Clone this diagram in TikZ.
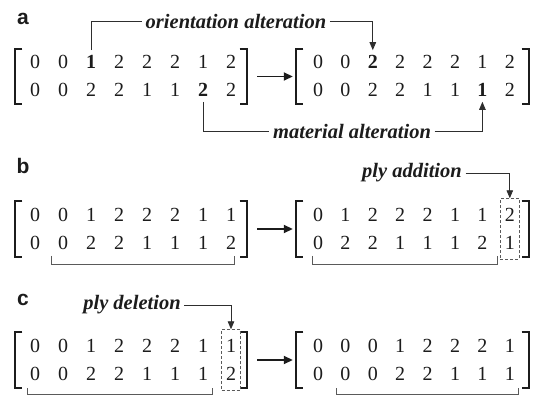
\documentclass[tikz,border=0pt]{standalone}
\usepackage{fontspec}
\setmainfont{Liberation Serif}
\newfontfamily\panelfont{Liberation Sans}
\usetikzlibrary{arrows.meta,fit}
\definecolor{ink}{HTML}{1C1C1C}
\definecolor{wire}{HTML}{2E2E2E}
\definecolor{soft}{HTML}{5A5A5A}

% square brackets drawn on the edges of a frame node
\newcommand\matbrackets[1]{%
  \draw[brk] ([xshift=7.5pt]#1.north west) -| (#1.south west) -- ++(7.5,0);
  \draw[brk] ([xshift=-7.5pt]#1.north east) -| (#1.south east) -- ++(-7.5,0);
}

\begin{document}
\begin{tikzpicture}[x=1pt,y=-1pt,
  dig/.style={font=\fontsize{20}{20}\selectfont, text=ink, inner xsep=4pt, inner ysep=5pt},
  tag/.style={font=\fontsize{20.5}{20.5}\selectfont\bfseries\itshape, text=ink, inner xsep=3.5pt, inner ysep=2pt},
  panel/.style={font=\panelfont\fontsize{21}{21}\selectfont\bfseries, text=ink, inner sep=0pt},
  frame/.style={inner sep=0pt, draw=none},
  brk/.style={draw=ink, line width=2pt, line join=miter},
  goarrow/.style={draw=ink, line width=1.7pt, -{Triangle[length=9pt,width=8pt]}, shorten <=10pt, shorten >=3pt},
  link/.style={draw=wire, line width=0.9pt},
  linkarrow/.style={link, -{Triangle[length=8pt,width=6.5pt]}},
  ubr/.style={draw=soft, line width=0.9pt},
  dbox/.style={draw=soft, line width=0.8pt, dash pattern=on 3pt off 2pt, inner xsep=0.3pt, inner ysep=4.5pt}
]
\useasboundingbox[fill=white] (0,0) rectangle (533,395);

% ---------------- panel a ----------------
\node[panel] (la) at (23,19) {a};
\foreach \v [count=\c] in {0,0,\textbf{1},2,2,2,1,2}
  \node[dig] (aL-1-\c) at ({35+28*(\c-1)},62) {\v};
\foreach \v [count=\c] in {0,0,2,2,1,1,\textbf{2},2}
  \node[dig] (aL-2-\c) at ({35+28*(\c-1)},90) {\v};
\foreach \v [count=\c] in {0,0,\textbf{2},2,2,2,1,2}
  \node[dig] (aR-1-\c) at ({318+27.4*(\c-1)},62) {\v};
\foreach \v [count=\c] in {0,0,2,2,1,1,\textbf{1},2}
  \node[dig] (aR-2-\c) at ({318+27.4*(\c-1)},90) {\v};
\node[frame, minimum width=232pt, minimum height=54pt] (aL) at (131,76.5) {};
\node[frame, minimum width=233pt, minimum height=54pt] (aR) at (412.5,76.5) {};
\matbrackets{aL}
\matbrackets{aR}
\draw[goarrow] (aL.east) -- (aR.west);

\node[tag] (orient) at (236,21) {orientation alteration};
\node[tag] (matter) at (352,131) {material alteration};
\draw[link] (aL-1-3.north) |- (orient.west);
\draw[linkarrow] (orient.east) -| (aR-1-3.north);
\draw[link] (aL-2-7.south) |- (matter.west);
\draw[linkarrow] (matter.east) -| (aR-2-7.south);

% ---------------- panel b ----------------
\node[panel] (lb) at (23,166) {b};
\foreach \v [count=\c] in {0,0,1,2,2,2,1,1}
  \node[dig] (bL-1-\c) at ({35+28*(\c-1)},215) {\v};
\foreach \v [count=\c] in {0,0,2,2,1,1,1,2}
  \node[dig] (bL-2-\c) at ({35+28*(\c-1)},243) {\v};
\foreach \v [count=\c] in {0,1,2,2,2,1,1,2}
  \node[dig] (bR-1-\c) at ({318+27.4*(\c-1)},215) {\v};
\foreach \v [count=\c] in {0,2,2,1,1,1,2,1}
  \node[dig] (bR-2-\c) at ({318+27.4*(\c-1)},243) {\v};
\node[frame, minimum width=232pt, minimum height=55pt] (bL) at (131,229) {};
\node[frame, minimum width=233pt, minimum height=55pt] (bR) at (412.5,229) {};
\matbrackets{bL}
\matbrackets{bR}
\draw[goarrow] (bL.east) -- (bR.west);

\node[dbox, fit=(bR-1-8)(bR-2-8)] (addbox) {};
\node[tag] (plyadd) at (412,173) {ply addition};
\draw[linkarrow] (plyadd.east) -| (addbox.north);

\draw[ubr] (51,256) |- (234,264) -- (234,256);
\draw[ubr] (312,256) |- (497,264) -- (497,256);

% ---------------- panel c ----------------
\node[panel] (lc) at (23,300) {c};
\foreach \v [count=\c] in {0,0,1,2,2,2,1,1}
  \node[dig] (cL-1-\c) at ({35+28*(\c-1)},346) {\v};
\foreach \v [count=\c] in {0,0,2,2,1,1,1,2}
  \node[dig] (cL-2-\c) at ({35+28*(\c-1)},374) {\v};
\foreach \v [count=\c] in {0,0,0,1,2,2,2,1}
  \node[dig] (cR-1-\c) at ({318+27.4*(\c-1)},346) {\v};
\foreach \v [count=\c] in {0,0,0,2,2,1,1,1}
  \node[dig] (cR-2-\c) at ({318+27.4*(\c-1)},374) {\v};
\node[frame, minimum width=232pt, minimum height=55pt] (cL) at (131,360) {};
\node[frame, minimum width=233pt, minimum height=55pt] (cR) at (412.5,360) {};
\matbrackets{cL}
\matbrackets{cR}
\draw[goarrow] (cL.east) -- (cR.west);

\node[dbox, fit=(cL-1-8)(cL-2-8)] (delbox) {};
\node[tag] (plydel) at (132,305) {ply deletion};
\draw[linkarrow] (plydel.east) -| (delbox.north);

\draw[ubr] (27,388) |- (212,394) -- (212,388);
\draw[ubr] (336,388) |- (518,394) -- (518,388);
\end{tikzpicture}
\end{document}
